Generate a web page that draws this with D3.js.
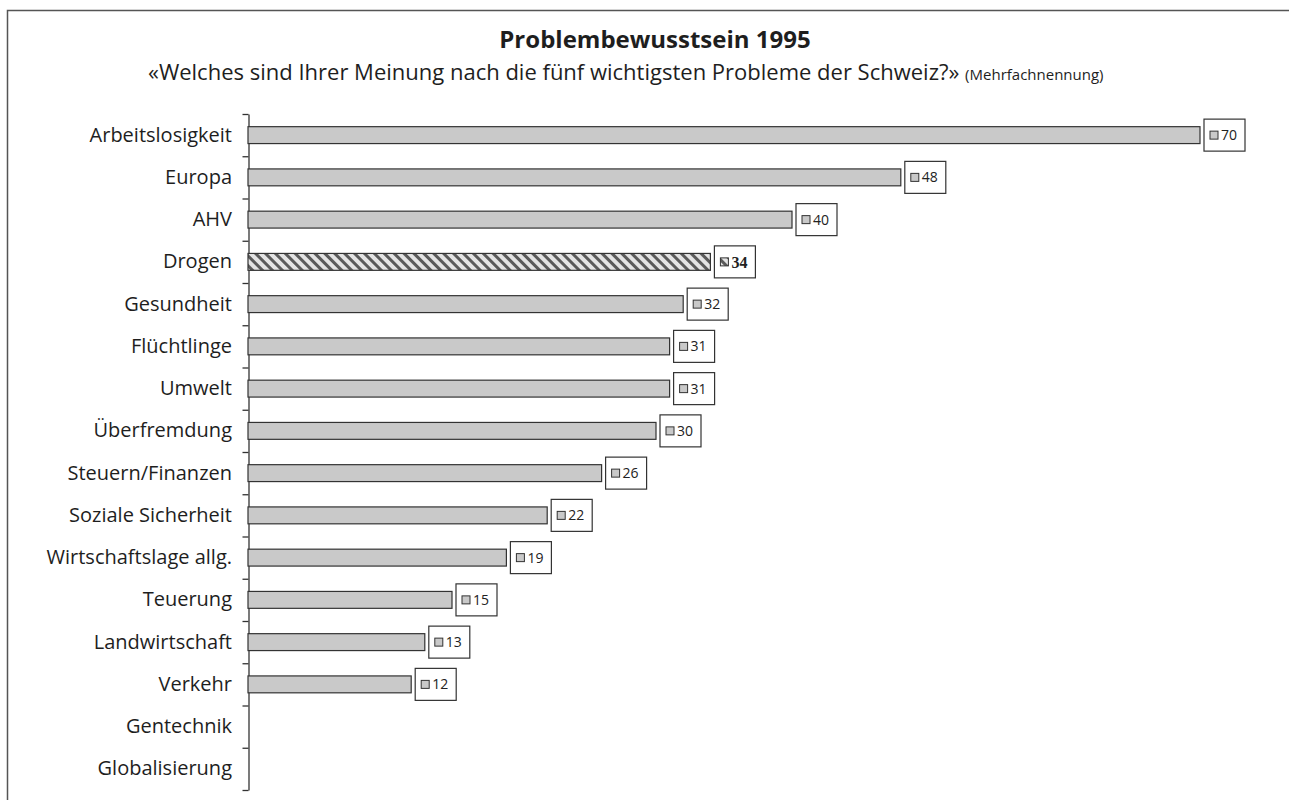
<!DOCTYPE html>
<html>
<head>
<meta charset="utf-8">
<script src="https://cdn.jsdelivr.net/npm/d3@7"></script>
<style>
  body { margin: 0; background: #fff; }
</style>
</head>
<body>
<script>
'use strict';

// chart data
const categories = ["Arbeitslosigkeit", "Europa", "AHV", "Drogen", "Gesundheit",
  "Flüchtlinge", "Umwelt", "Überfremdung", "Steuern/Finanzen", "Soziale Sicherheit",
  "Wirtschaftslage allg.", "Teuerung", "Landwirtschaft", "Verkehr", "Gentechnik", "Globalisierung"];
const values = [70, 48, 40, 34, 32, 31, 31, 30, 26, 22, 19, 15, 13, 12, null, null];
const highlighted = ["Drogen"];
const titleText = "Problembewusstsein 1995";
const subtitleText = "«Welches sind Ihrer Meinung nach die fünf wichtigsten Probleme der Schweiz?»";
const subtitleNote = "(Mehrfachnennung)";

const width = 1289, height = 800;
const sansFont = "'Open Sans', 'Noto Sans', sans-serif";

const svg = d3.select('body')
  .append('svg')
  .attr('width', width)
  .attr('height', height);

// hatch pattern for highlighted bar
const defs = svg.append('defs');
const pat = defs.append('pattern')
  .attr('id', 'hatch')
  .attr('patternUnits', 'userSpaceOnUse')
  .attr('width', 7)
  .attr('height', 7)
  .attr('patternTransform', 'rotate(-45)');
pat.append('rect').attr('width', 7).attr('height', 7).attr('fill', '#e4e4e4');
pat.append('rect').attr('width', 3).attr('height', 7).attr('fill', '#5a5a5a');

// frame (left + top only visible)
svg.append('path')
  .attr('d', `M7.5,${height} V10.5 H${width}`)
  .attr('fill', 'none')
  .attr('stroke', '#555')
  .attr('stroke-width', 1.5);

// title
svg.append('text')
  .attr('x', 655)
  .attr('y', 48)
  .attr('text-anchor', 'middle')
  .style('font', `bold 24px ${sansFont}`)
  .attr('fill', '#1e1e1e')
  .text(titleText);

const sub = svg.append('text')
  .attr('x', 148)
  .attr('y', 80)
  .style('font-family', sansFont)
  .attr('fill', '#1e1e1e');
sub.append('tspan').style('font-size', '22px').text(subtitleText + ' ');
sub.append('tspan').style('font-size', '15px').text(subtitleNote);

// scales
const xScale = d3.scaleLinear()
  .domain([0, 70])
  .range([248, 1200]);

const yScale = d3.scaleBand()
  .domain(categories)
  .range([114, 790])
  .paddingInner(0.6)
  .paddingOuter(0.3);

// axis with ticks between categories
const tickPos = d3.range(categories.length + 1)
  .map(i => 114 + i * (790 - 114) / categories.length);
const axisScale = d3.scaleLinear().domain([0, 1]).range([114, 790]);
const axisG = svg.append('g')
  .attr('transform', 'translate(248.5, 0)')
  .call(d3.axisLeft(axisScale)
    .tickValues(tickPos.map(p => axisScale.invert(p)))
    .tickSize(6)
    .tickSizeOuter(0)
    .tickFormat(''));
axisG.select('.domain').attr('stroke', '#333').attr('stroke-width', 1.3);
axisG.selectAll('.tick line').attr('stroke', '#333').attr('stroke-width', 1.3);

// category labels
svg.append('g')
  .selectAll('text')
  .data(categories)
  .enter()
  .append('text')
  .attr('x', 232)
  .attr('y', d => yScale(d) + yScale.bandwidth() / 2)
  .attr('dy', '0.33em')
  .attr('text-anchor', 'end')
  .style('font', `20px ${sansFont}`)
  .attr('fill', '#1e1e1e')
  .text(d => d);

const rows = categories.map((c, i) => ({ cat: c, val: values[i] }))
  .filter(d => d.val != null);

// bars
svg.append('g')
  .selectAll('rect')
  .data(rows)
  .enter()
  .append('rect')
  .attr('x', xScale(0))
  .attr('y', d => yScale(d.cat))
  .attr('width', d => xScale(d.val) - xScale(0))
  .attr('height', yScale.bandwidth())
  .attr('fill', d => highlighted.includes(d.cat) ? 'url(#hatch)' : '#c9c9c9')
  .attr('stroke', '#333')
  .attr('stroke-width', 1.2);

// value label boxes
const boxW = 41, boxH = 32;
const labels = svg.append('g')
  .selectAll('g')
  .data(rows)
  .enter()
  .append('g')
  .attr('transform', d =>
    `translate(${xScale(d.val) + 4}, ${yScale(d.cat) + yScale.bandwidth() / 2 - boxH / 2})`);

labels.append('rect')
  .attr('width', boxW)
  .attr('height', boxH)
  .attr('fill', '#fff')
  .attr('stroke', '#333')
  .attr('stroke-width', 1.2);

labels.append('rect')
  .attr('x', 6)
  .attr('y', boxH / 2 - 4)
  .attr('width', 8)
  .attr('height', 8)
  .attr('fill', d => highlighted.includes(d.cat) ? 'url(#hatch)' : '#c9c9c9')
  .attr('stroke', '#333')
  .attr('stroke-width', 1);

labels.append('text')
  .attr('x', 17)
  .attr('y', boxH / 2)
  .attr('dy', '0.36em')
  .style('font', d => highlighted.includes(d.cat)
    ? "bold 16px 'Liberation Serif', 'DejaVu Serif', serif"
    : `14px ${sansFont}`)
  .attr('fill', '#222')
  .text(d => d.val);
</script>
</body>
</html>
